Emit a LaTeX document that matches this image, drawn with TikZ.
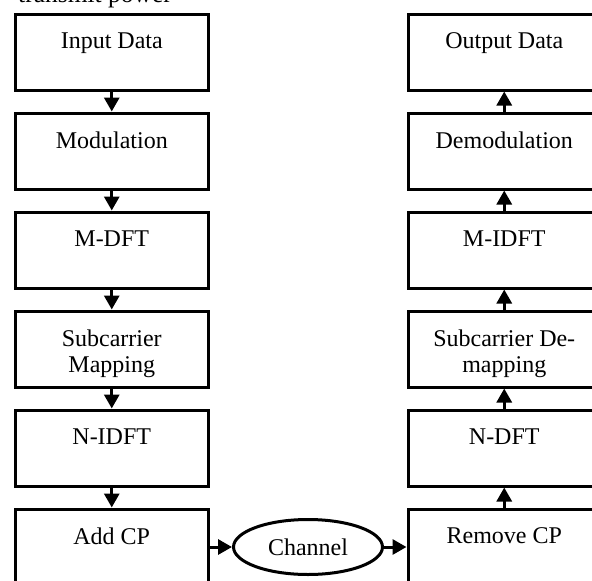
\documentclass[tikz,border=0pt]{standalone}
\usepackage{fontspec}
\setmainfont{Liberation Serif}
\usetikzlibrary{arrows.meta,shapes.geometric}

\begin{document}
\begin{tikzpicture}[x=1pt,y=-1pt,
  blk/.style={draw,line width=3pt,minimum width=192.5pt,minimum height=76pt,inner sep=0pt},
  txt/.style={font=\fontsize{24pt}{25.5pt}\selectfont,align=center,inner sep=0pt,anchor=north},
  flow/.style={line width=3pt,-{Triangle[width=15pt,length=14pt]}},
  chan/.style={draw,ellipse,line width=3pt,minimum width=149pt,minimum height=55pt,inner sep=0pt,
    font=\fontsize{24pt}{25.5pt}\selectfont},
]
\useasboundingbox (0,0) rectangle (592,581);
\fill[white] (0,0) rectangle (592,581);

% end of the preceding text line
\node[font=\fontsize{25.5pt}{27pt}\selectfont,anchor=base west,inner sep=0pt] (cap) at (18,2.5) {transmit power};

% transmitter chain
\node[blk] (in)   at (111.75,52)  {};
\node[blk] (mod)  at (111.75,151) {};
\node[blk] (mdft) at (111.75,250) {};
\node[blk] (map)  at (111.75,349) {};
\node[blk] (nidft) at (111.75,448) {};
\node[blk] (add)  at (111.75,547) {};

\node[txt] (inT)   at ([yshift=19.3pt]in.center)   {Input Data};
\node[txt] (modT)  at ([yshift=19.3pt]mod.center)  {Modulation};
\node[txt] (mdftT) at ([yshift=19.3pt]mdft.center) {M-DFT};
\node[txt] (mapT)  at ([yshift=19.3pt]map.center)  {Subcarrier\\Mapping};
\node[txt] (nidftT) at ([yshift=19.3pt]nidft.center) {N-IDFT};
\node[txt] (addT)  at ([yshift=19.3pt]add.center)  {Add CP};

% receiver chain
\node[blk] (out)   at (504.25,52)  {};
\node[blk] (demod) at (504.25,151) {};
\node[blk] (midft) at (504.25,250) {};
\node[blk] (demap) at (504.25,349) {};
\node[blk] (ndft)  at (504.25,448) {};
\node[blk] (rem)   at (504.25,547) {};

\node[txt] (outT)   at ([yshift=19.3pt]out.center)   {Output Data};
\node[txt] (demodT) at ([yshift=19.3pt]demod.center) {Demodulation};
\node[txt] (midftT) at ([yshift=19.3pt]midft.center) {M-IDFT};
\node[txt] (demapT) at ([yshift=19.3pt]demap.center) {Subcarrier De-\\mapping};
\node[txt] (ndftT)  at ([yshift=19.3pt]ndft.center)  {N-DFT};
\node[txt] (remT)   at ([yshift=19.3pt]rem.center)   {Remove CP};

% channel
\node[chan] (ch) at (308,547) {Channel};

% connectors
\draw[flow] (in) -- (mod);
\draw[flow] (mod) -- (mdft);
\draw[flow] (mdft) -- (map);
\draw[flow] (map) -- (nidft);
\draw[flow] (nidft) -- (add);
\draw[flow] (add) -- (ch);
\draw[flow] (ch) -- (rem);
\draw[flow] (rem) -- (ndft);
\draw[flow] (ndft) -- (demap);
\draw[flow] (demap) -- (midft);
\draw[flow] (midft) -- (demod);
\draw[flow] (demod) -- (out);
\end{tikzpicture}
\end{document}
